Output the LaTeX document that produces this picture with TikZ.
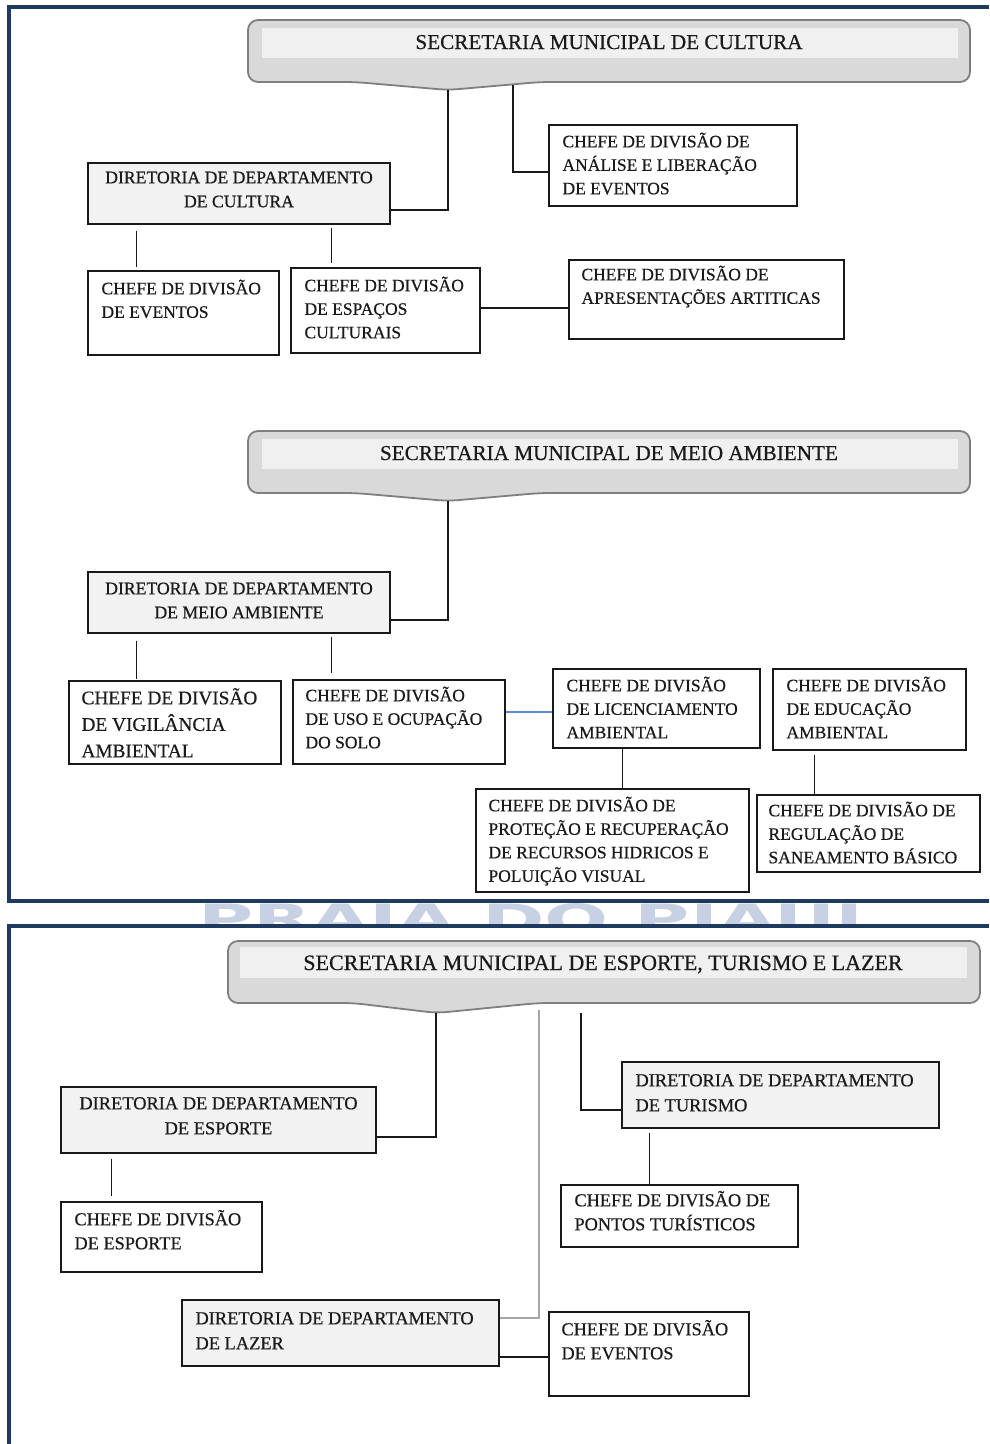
\documentclass[tikz,border=0pt]{standalone}
\usepackage{fontspec}
\usepackage{graphicx}
\setmainfont{Liberation Serif}[FakeBold=0.5]
\newfontfamily\wmfont{DejaVu Sans}
\usetikzlibrary{fit,calc}

\definecolor{frameblue}{HTML}{1F3A5F}
\definecolor{hdrfill}{HTML}{D9D9D9}
\definecolor{hdrband}{HTML}{F0F0F0}
\definecolor{hdredge}{HTML}{7F7F7F}
\definecolor{dirgray}{HTML}{F2F2F2}
\definecolor{textdark}{HTML}{1A1A1A}
\definecolor{wmblue}{HTML}{C8D0E3}
\definecolor{linkblue}{HTML}{5B8BD0}
\definecolor{linkgray}{HTML}{A6A6A6}

% font sizes of the chart levels
\newcommand\fsChefe{\fontsize{17.5}{23.5}\selectfont}
\newcommand\fsDir{\fontsize{17.7}{24}\selectfont}
\newcommand\fsBig{\fontsize{19.3}{26.5}\selectfont}
\newcommand\fsChefeC{\fontsize{18.3}{24}\selectfont}
\newcommand\fsDirC{\fontsize{18.4}{25}\selectfont}
\newcommand\fsHdr{\fontsize{21.2}{25}\selectfont}
\newcommand\fsHdrC{\fontsize{22}{26}\selectfont}

% left-aligned and centred line stacks, baseline on the first line
\newcommand\lstack[1]{\begin{tabular}[t]{@{}l@{}}#1\end{tabular}}
\newcommand\cstack[1]{\begin{tabular}[t]{@{}c@{}}#1\end{tabular}}

% header banner with a shallow pointer at the bottom
\newcommand\hdrshape[8]{%
  \filldraw[hdrshape] (#1,#2) -- (#3,#2) -- (#3,#4) -- (#8,#4) -- (#6,#7) -- (#5,#4) -- (#1,#4) -- cycle;}

\tikzset{
  hdrshape/.style={fill=hdrfill, draw=hdredge, line width=1.8pt, rounded corners=10pt},
  hdrband/.style={fill=hdrband, draw=none, inner sep=0pt},
  hdrtext/.style={inner sep=0pt, text=textdark, font=\fsHdr},
  chefebox/.style={draw=black!90, line width=1.4pt, fill=white, inner sep=0pt},
  dirbox/.style={chefebox, fill=dirgray},
  lbl/.style={inner sep=0pt, text=textdark, anchor=base west},
  clbl/.style={inner sep=0pt, text=textdark, anchor=base},
  orgline/.style={line width=1.4pt, draw=black!90},
  frameline/.style={line width=3.6pt, draw=frameblue},
}

\begin{document}
\begin{tikzpicture}[x=1pt, y=-1pt]
\useasboundingbox (0,0) rectangle (989,1444);

% watermark seen between the two frames
\begin{scope}
  \clip (0,903.5) rectangle (989,924.5);
  \node[anchor=north west, inner sep=0pt, text=wmblue] (wm) at (198,903)
    {\resizebox{665pt}{30pt}{\wmfont\bfseries PRAIA DO PIAUI}};
\end{scope}

% frames
\draw[frameline] (989,7) -- (9,7) -- (9,901) -- (989,901);
\draw[frameline] (989,926) -- (9,926) -- (9,1444);

% ---------------- Cultura ----------------
\hdrshape{248}{20}{970}{82}{355}{448}{90}{540}
\fill[hdrband] (262,28) rectangle (958,58);
\node[hdrtext, anchor=base] (h1) at (609,49) {SECRETARIA MUNICIPAL DE CULTURA};
\coordinate (h1tip) at (448,90);
\coordinate (h1b) at (513,85);

\node[dirbox, fit={(88,163) (390,224)}] (dc) {};
\node[clbl, font=\fsDir] (dc-t) at ($(dc.north)+(0,21)$) {\cstack{DIRETORIA DE DEPARTAMENTO\\DE CULTURA}};

\node[chefebox, fit={(549,125) (797,206)}] (ana) {};
\node[lbl, font=\fsChefe] (ana-t) at ($(ana.north west)+(14,23)$) {\lstack{CHEFE DE DIVISÃO DE\\ANÁLISE E LIBERAÇÃO\\DE EVENTOS}};

\node[chefebox, fit={(88,271) (279,355)}] (ev1) {};
\node[lbl, font=\fsChefe] (ev1-t) at ($(ev1.north west)+(14,24)$) {\lstack{CHEFE DE DIVISÃO\\DE EVENTOS}};

\node[chefebox, fit={(291,268) (480,353)}] (esp) {};
\node[lbl, font=\fsChefe] (esp-t) at ($(esp.north west)+(14,24)$) {\lstack{CHEFE DE DIVISÃO\\DE ESPAÇOS\\CULTURAIS}};

\node[chefebox, fit={(569,260) (844,339)}] (apr) {};
\node[lbl, font=\fsChefe] (apr-t) at ($(apr.north west)+(13,21)$) {\lstack{CHEFE DE DIVISÃO DE\\APRESENTAÇÕES ARTITICAS}};

\draw[orgline] (h1tip) |- ([yshift=-16.5pt]dc.east);
\draw[orgline] (h1b) |- ([yshift=-6.5pt]ana.west);
\draw[orgline] ($(dc.south west)+(49,6)$) -- ($(ev1.north west)+(49,-3)$);
\draw[orgline] ($(dc.south west)+(244,3)$) -- ($(esp.north west)+(41,-4)$);
\draw[orgline] ([yshift=2.5pt]esp.east) -- ([yshift=2.5pt]esp.east -| apr.west);

% ---------------- Meio Ambiente ----------------
\hdrshape{248}{431}{970}{493}{355}{448}{501}{540}
\fill[hdrband] (262,439) rectangle (958,469);
\node[hdrtext, anchor=base] (h2) at (609,460) {SECRETARIA MUNICIPAL DE MEIO AMBIENTE};
\coordinate (h2tip) at (448,501);

\node[dirbox, fit={(88,572) (390,633)}] (dm) {};
\node[clbl, font=\fsDir] (dm-t) at ($(dm.north)+(0,23)$) {\cstack{DIRETORIA DE DEPARTAMENTO\\DE MEIO AMBIENTE}};

\node[chefebox, fit={(69,681) (281,764)}] (vig) {};
\node[lbl, font=\fsBig] (vig-t) at ($(vig.north west)+(13,24)$) {\lstack{CHEFE DE DIVISÃO\\DE VIGILÂNCIA\\AMBIENTAL}};

\node[chefebox, fit={(293,680) (505,764)}] (uso) {};
\node[lbl, font=\fsChefe] (uso-t) at ($(uso.north west)+(13,22)$) {\lstack{CHEFE DE DIVISÃO\\DE USO E OCUPAÇÃO\\DO SOLO}};

\node[chefebox, fit={(553,669) (760,748)}] (lic) {};
\node[lbl, font=\fsChefe] (lic-t) at ($(lic.north west)+(14,23)$) {\lstack{CHEFE DE DIVISÃO\\DE LICENCIAMENTO\\AMBIENTAL}};

\node[chefebox, fit={(773,669) (966,750)}] (edu) {};
\node[lbl, font=\fsChefe] (edu-t) at ($(edu.north west)+(14,23)$) {\lstack{CHEFE DE DIVISÃO\\DE EDUCAÇÃO\\AMBIENTAL}};

\node[chefebox, fit={(476,789) (749,892)}] (pro) {};
\node[lbl, font=\fsChefe] (pro-t) at ($(pro.north west)+(13,23)$) {\lstack{CHEFE DE DIVISÃO DE\\PROTEÇÃO E RECUPERAÇÃO\\DE RECURSOS HIDRICOS E\\POLUIÇÃO VISUAL}};

\node[chefebox, fit={(757,795) (980,872)}] (reg) {};
\node[lbl, font=\fsChefe] (reg-t) at ($(reg.north west)+(12,22)$) {\lstack{CHEFE DE DIVISÃO DE\\REGULAÇÃO DE\\SANEAMENTO BÁSICO}};

\draw[orgline] (h2tip) |- ([yshift=-17.5pt]dm.east);
\draw[orgline] ($(dm.south west)+(49,7)$) -- ($(vig.north west)+(68,-1)$);
\draw[orgline] ($(dm.south west)+(244,3)$) -- ($(uso.north west)+(39,-6)$);
\draw[line width=1.4pt, draw=linkblue] ([yshift=10pt]uso.east) -- ([yshift=10pt]uso.east -| lic.west);
\draw[orgline] ($(lic.south west)+(70,0)$) -- ($(pro.north west)+(147,0)$);
\draw[orgline] ($(edu.south west)+(42,4)$) -- ($(reg.north west)+(58,0)$);

% ---------------- Esporte, Turismo e Lazer ----------------
\hdrshape{228}{941}{980}{1003}{353}{437}{1013}{538}
\fill[hdrband] (240,947) rectangle (967,978);
\node[hdrtext, font=\fsHdrC, anchor=base] (h3) at (603,970) {SECRETARIA MUNICIPAL DE ESPORTE, TURISMO E LAZER};
\coordinate (h3tip) at (436,1013);
\coordinate (h3b) at (539,1010);
\coordinate (h3c) at (581,1013);

\node[dirbox, fit={(61,1087) (376,1153)}] (de) {};
\node[clbl, font=\fsDirC] (de-t) at ($(de.north)+(0,23)$) {\cstack{DIRETORIA DE DEPARTAMENTO\\DE ESPORTE}};

\node[chefebox, fit={(61,1202) (262,1272)}] (ce) {};
\node[lbl, font=\fsChefeC] (ce-t) at ($(ce.north west)+(14,24)$) {\lstack{CHEFE DE DIVISÃO\\DE ESPORTE}};

\node[dirbox, fit={(622,1062) (939,1128)}] (dt) {};
\node[lbl, font=\fsDirC] (dt-t) at ($(dt.north west)+(14,25)$) {\lstack{DIRETORIA DE DEPARTAMENTO\\DE TURISMO}};

\node[chefebox, fit={(561,1185) (798,1247)}] (pt) {};
\node[lbl, font=\fsChefeC] (pt-t) at ($(pt.north west)+(14,22)$) {\lstack{CHEFE DE DIVISÃO DE\\PONTOS TURÍSTICOS}};

\node[dirbox, fit={(182,1300) (499,1366)}] (dl) {};
\node[lbl, font=\fsDirC] (dl-t) at ($(dl.north west)+(14,25)$) {\lstack{DIRETORIA DE DEPARTAMENTO\\DE LAZER}};

\node[chefebox, fit={(549,1312) (749,1396)}] (cev) {};
\node[lbl, font=\fsChefeC] (cev-t) at ($(cev.north west)+(13,24)$) {\lstack{CHEFE DE DIVISÃO\\DE EVENTOS}};

\draw[orgline] (h3tip) |- ([yshift=-17pt]de.east);
\draw[orgline] ($(de.south west)+(51,5)$) -- ($(ce.north west)+(51,-5)$);
\draw[line width=1.4pt, draw=linkgray] (h3b) |- ([yshift=15pt]dl.east);
\draw[orgline] (h3c) |- ([yshift=-15pt]dt.west);
\draw[orgline] ($(dt.south west)+(28,4)$) -- ($(pt.north west)+(89,0)$);
\draw[orgline] ([yshift=-24pt]dl.east) -- ([yshift=-24pt]dl.east -| cev.west);
\end{tikzpicture}
\end{document}
